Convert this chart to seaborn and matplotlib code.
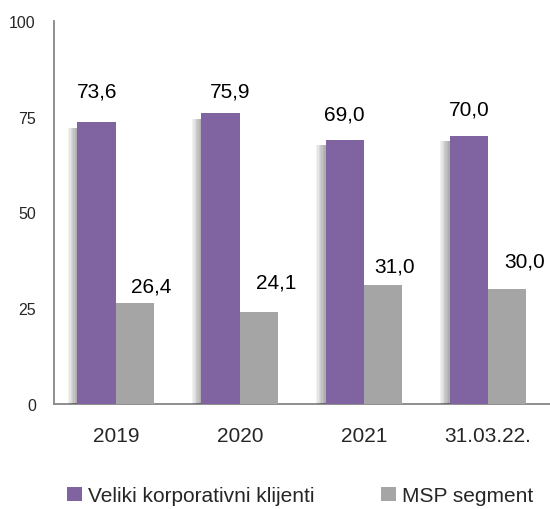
import pandas as pd
import seaborn as sns
import matplotlib.pyplot as plt
import matplotlib.patheffects as pe
from matplotlib.patches import Patch
from matplotlib.ticker import FixedLocator

categories = ['2019', '2020', '2021', '31.03.22.']
series_names = ['Veliki korporativni klijenti', 'MSP segment']
veliki = [73.6, 75.9, 69.0, 70.0]
msp = [26.4, 24.1, 31.0, 30.0]
value_labels = [['73,6', '75,9', '69,0', '70,0'], ['26,4', '24,1', '31,0', '30,0']]
yticks = [0, 25, 50, 75, 100]

# label nudges in pixels (dx, dy above bar top)
label_dx = [[0, 9, 0, 0], [16, 17, 11, 17]]
label_dy = [[31, 22, 26, 27], [17, 30, 19, 28]]

colors = ['#8064A2', '#A5A5A5']
axis_col = '#868686'

df = pd.DataFrame({
    'cat': categories * 2,
    'series': [series_names[0]] * 4 + [series_names[1]] * 4,
    'val': veliki + msp,
})

sns.set_style('white')
plt.rcParams['font.family'] = ['Liberation Sans', 'DejaVu Sans']

fig = plt.figure(figsize=(5.5, 5.1), dpi=100)
ax = fig.add_axes([0.098, 0.206, 0.902, 0.751])

sns.barplot(data=df, x='cat', y='val', hue='series', palette=colors,
            width=0.62, saturation=1, legend=False, ax=ax, zorder=3,
            linewidth=0, edgecolor='none')

# soft shadow on the left of the purple bars
shadow = [pe.SimplePatchShadow(offset=(-k, -4), shadow_rgbFace='black', alpha=0.05)
          for k in range(7, 0, -1)]
for bar in ax.containers[0]:
    bar.set_path_effects(shadow + [pe.Normal()])

for i, cont in enumerate(ax.containers):
    for j, bar in enumerate(cont):
        xc = bar.get_x() + bar.get_width() / 2
        ax.annotate(value_labels[i][j], (xc, bar.get_height()),
                    xytext=(label_dx[i][j], label_dy[i][j]),
                    textcoords='offset pixels', ha='center', va='center',
                    fontsize=15, color='black')

ax.set_xlim(-0.5, 3.5)
ax.set_ylim(0, 100)
ax.set_yticks(yticks)
ax.set_xlabel('')
ax.set_ylabel('')
ax.xaxis.set_minor_locator(FixedLocator([-0.5, 0.5, 1.5, 2.5]))
ax.tick_params(axis='x', which='major', length=0, pad=16, labelsize=15)
ax.tick_params(axis='x', which='minor', length=6, color=axis_col, width=1.3, direction='out')
ax.tick_params(axis='y', length=6, color=axis_col, width=1.3, direction='out', pad=7, labelsize=11.5)
for s in ['top', 'right']:
    ax.spines[s].set_visible(False)
for s in ['left', 'bottom']:
    ax.spines[s].set_color(axis_col)
    ax.spines[s].set_linewidth(1.3)

handles = [Patch(facecolor=c, edgecolor='none') for c in colors]
fig.legend(handles, series_names, loc='center', bbox_to_anchor=(0.546, 0.026),
           ncol=2, frameon=False, fontsize=15, handlelength=0.7, handleheight=0.7,
           handletextpad=0.3, columnspacing=3.2)

fig.savefig('out.png', dpi=100)
